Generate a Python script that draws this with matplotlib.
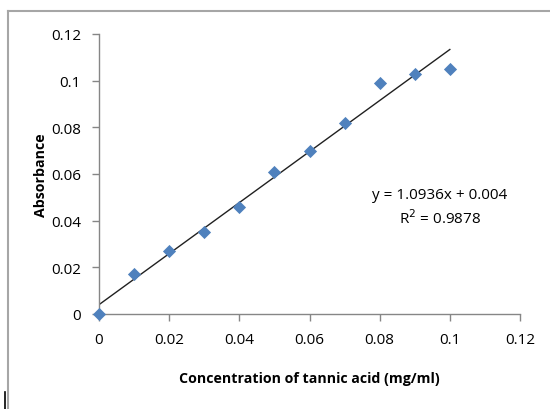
import matplotlib
matplotlib.use("Agg")
import matplotlib.pyplot as plt
from matplotlib.lines import Line2D
import numpy as np

plt.rcParams['font.family'] = ['Open Sans', 'DejaVu Sans']

conc = [0.0, 0.01, 0.02, 0.03, 0.04, 0.05, 0.06, 0.07, 0.08, 0.09, 0.10]
absorb = [0.0, 0.017, 0.027, 0.035, 0.046, 0.061, 0.070, 0.082, 0.099, 0.103, 0.105]
slope = 1.0936
intercept = 0.004
xticks = [0, 0.02, 0.04, 0.06, 0.08, 0.1, 0.12]
xtick_labels = ['0', '0.02', '0.04', '0.06', '0.08', '0.1', '0.12']
yticks = [0, 0.02, 0.04, 0.06, 0.08, 0.1, 0.12]
ytick_labels = ['0', '0.02', '0.04', '0.06', '0.08', '0.1', '0.12']

fig = plt.figure(figsize=(5.5, 4.1), dpi=100)
ax = fig.add_axes([99/550, 1-315/410, (520-99)/550, (315-35)/410])

fx = np.array([min(conc), max(conc)])
ax.plot(fx, slope*fx + intercept, color='#202020', lw=1.0, zorder=2)
ax.scatter(conc, absorb, marker='D', s=45, color='#4F81BD', zorder=3, clip_on=False, linewidths=0)

ax.set_xlim(0, 0.12)
ax.set_ylim(0, 0.12)
ax.set_xticks(xticks)
ax.set_xticklabels(xtick_labels)
ax.set_yticks(yticks)
ax.set_yticklabels(ytick_labels)
for s in ['top', 'right']:
    ax.spines[s].set_visible(False)
for s in ['left', 'bottom']:
    ax.spines[s].set_color('#868686')
    ax.spines[s].set_linewidth(1.0)
ax.tick_params(axis='both', colors='#868686', labelcolor='black', labelsize=11, length=5, width=1.0)
ax.tick_params(axis='x', pad=8)
ax.tick_params(axis='y', pad=8)

ax.set_xlabel('Concentration of tannic acid (mg/ml)', fontsize=10.2, fontweight='bold', labelpad=17)
ax.set_ylabel('Absorbance', fontsize=10.2, fontweight='bold', labelpad=2)

fig.text(440/550, 1-196/410, 'y = 1.0936x + 0.004', ha='center', va='center', fontsize=11)
fig.text(440/550, 1-219/410, 'R$^2$ = 0.9878', ha='center', va='center', fontsize=11)

# outer chart frame
fig.add_artist(Line2D([8/550, 8/550], [0, 1-12/410], color='#A6A6A6', lw=1.5, transform=fig.transFigure))
fig.add_artist(Line2D([8/550, 1], [1-12/410, 1-12/410], color='#A6A6A6', lw=1.5, transform=fig.transFigure))
fig.add_artist(Line2D([5/550, 5/550], [0, 1-393/410], color='black', lw=1.2, transform=fig.transFigure))

fig.savefig('out.png', dpi=100)
